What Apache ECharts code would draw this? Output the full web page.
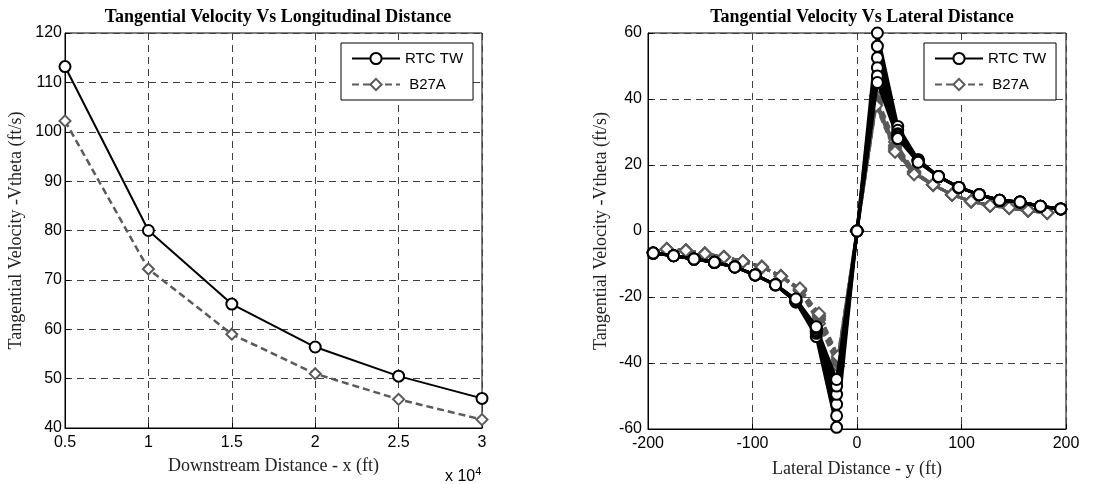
<!DOCTYPE html>
<html>
<head>
<meta charset="utf-8">
<script src="https://cdn.jsdelivr.net/npm/echarts@6/dist/echarts.min.js"></script>
<style>
  html, body { margin: 0; padding: 0; background: #fff; }
  #chart { width: 1118px; height: 484px; }
</style>
</head>
<body>
<div id="chart"></div>
<script>
// ---------- Left chart data ----------
const leftTitle = 'Tangential Velocity Vs Longitudinal Distance';
const downstreamX = [5000, 10000, 15000, 20000, 25000, 30000];
const rtcLong = [113.2, 80.0, 65.1, 56.4, 50.5, 46.0];
const b27Long = [102.2, 72.2, 59.0, 51.0, 45.8, 41.7];

// ---------- Right chart data ----------
const rightTitle = 'Tangential Velocity Vs Lateral Distance';
const rtcLatY = [-195, -175.5, -156, -136.5, -117, -97.5, -78, -58.5, -39, -19.5, 0, 19.5, 39, 58.5, 78, 97.5, 117, 136.5, 156, 175.5, 195];
const rtcLat1 = [-6.7, -7.5, -8.5, -9.5, -10.9, -13.3, -16.3, -21.5, -32.0, -59.5, 0, 60.0, 31.7, 21.6, 16.5, 13.2, 11.0, 9.3, 8.8, 7.5, 6.7];
const rtcLat2 = [-6.7, -7.5, -8.5, -9.5, -10.9, -13.3, -16.3, -21.5, -31.0, -56.0, 0, 56.0, 30.5, 21.6, 16.5, 13.2, 11.0, 9.3, 8.8, 7.5, 6.7];
const rtcLat3 = [-6.7, -7.5, -8.5, -9.5, -10.9, -13.3, -16.3, -21.3, -30.5, -52.5, 0, 52.5, 29.5, 21.4, 16.5, 13.2, 11.0, 9.3, 8.8, 7.5, 6.7];
const rtcLat4 = [-6.7, -7.5, -8.5, -9.5, -10.9, -13.3, -16.3, -21.0, -30.0, -49.5, 0, 49.5, 29.0, 21.2, 16.5, 13.2, 11.0, 9.3, 8.8, 7.5, 6.7];
const rtcLat5 = [-6.7, -7.5, -8.5, -9.5, -10.9, -13.3, -16.3, -20.8, -29.5, -47.0, 0, 47.0, 28.5, 21.0, 16.5, 13.2, 11.0, 9.3, 8.8, 7.5, 6.7];
const rtcLat6 = [-6.7, -7.5, -8.5, -9.5, -10.9, -13.3, -16.3, -20.6, -29.0, -45.0, 0, 45.0, 28.0, 20.8, 16.5, 13.2, 11.0, 9.3, 8.8, 7.5, 6.7];

const b27LatY = [-182, -163.8, -145.6, -127.4, -109.2, -91, -72.8, -54.6, -36.4, -18.2, 0, 18.2, 36.4, 54.6, 72.8, 91, 109.2, 127.4, 145.6, 163.8, 182];
const b27Lat1 = [-5.5, -5.9, -6.9, -7.9, -9.2, -10.9, -13.7, -18.1, -28.0, -41.0, 0, 41.0, 27.0, 18.0, 14.0, 11.0, 9.0, 7.7, 7.0, 6.2, 5.5];
const b27Lat2 = [-5.5, -5.9, -6.9, -7.9, -9.2, -10.9, -13.7, -18.1, -27.0, -40.0, 0, 40.0, 26.0, 18.0, 14.0, 11.0, 9.0, 7.7, 7.0, 6.2, 5.5];
const b27Lat3 = [-5.5, -5.9, -6.9, -7.9, -9.2, -10.9, -13.7, -18.0, -26.5, -39.5, 0, 39.5, 25.5, 17.8, 14.0, 11.0, 9.0, 7.7, 7.0, 6.2, 5.5];
const b27Lat4 = [-5.5, -5.9, -6.9, -7.9, -9.2, -10.9, -13.7, -17.8, -26.0, -39.0, 0, 39.0, 25.0, 17.6, 14.0, 11.0, 9.0, 7.7, 7.0, 6.2, 5.5];
const b27Lat5 = [-5.5, -5.9, -6.9, -7.9, -9.2, -10.9, -13.7, -17.6, -25.5, -38.5, 0, 38.5, 24.5, 17.4, 14.0, 11.0, 9.0, 7.7, 7.0, 6.2, 5.5];
const b27Lat6 = [-5.5, -5.9, -6.9, -7.9, -9.2, -10.9, -13.7, -17.4, -25.0, -38.0, 0, 38.0, 24.0, 17.2, 14.0, 11.0, 9.0, 7.7, 7.0, 6.2, 5.5];

const rtcLatProfiles = [rtcLat1, rtcLat2, rtcLat3, rtcLat4, rtcLat5, rtcLat6];
const b27LatProfiles = [b27Lat1, b27Lat2, b27Lat3, b27Lat4, b27Lat5, b27Lat6];

const seriesNames = ['RTC TW', 'B27A'];
const leftXLabel = 'Downstream Distance - x (ft)';
const rightXLabel = 'Lateral Distance - y (ft)';
const yLabel = 'Tangential Velocity -Vtheta (ft/s)';

// ---------- styles ----------
const BLACK = '#000000';
const GRAY = '#5a5a5a';
const GRID_C = '#404040';
const SANS = 'Liberation Sans, Arial, sans-serif';
const SERIF = 'Liberation Serif, Times New Roman, serif';

function zip(xs, ys) { return xs.map((x, i) => [x, ys[i]]); }

function xAxisCfg(gridIndex, min, max, interval, name, gap, fmt) {
  return {
    type: 'value', gridIndex, min, max, interval,
    name, nameLocation: 'middle', nameGap: gap,
    nameTextStyle: { fontFamily: SERIF, fontSize: 18, color: '#222' },
    axisLine: { show: true, onZero: false, lineStyle: { color: BLACK, width: 1 } },
    axisTick: { show: true, inside: true, length: 5, lineStyle: { color: BLACK } },
    axisLabel: { color: BLACK, fontFamily: SANS, fontSize: 16, margin: 7, formatter: fmt },
    splitLine: { show: true, lineStyle: { color: GRID_C, type: [7, 5], width: 1 } }
  };
}
function yAxisCfg(gridIndex, min, max, interval, gap, margin) {
  return {
    type: 'value', gridIndex, min, max, interval,
    name: yLabel, nameLocation: 'middle', nameGap: gap,
    nameTextStyle: { fontFamily: SERIF, fontSize: 18, color: '#222' },
    axisLine: { show: true, onZero: false, lineStyle: { color: BLACK, width: 1 } },
    axisTick: { show: true, inside: true, length: 5, lineStyle: { color: BLACK } },
    axisLabel: { color: BLACK, fontFamily: SANS, fontSize: 16, margin: margin },
    splitLine: { show: true, lineStyle: { color: GRID_C, type: [7, 5], width: 1 } }
  };
}

function rtcSeries(idx, data, lw, size, bw, z) {
  return {
    name: seriesNames[0], type: 'line', xAxisIndex: idx, yAxisIndex: idx,
    data, clip: false, z,
    symbol: 'emptyCircle', symbolSize: size,
    lineStyle: { color: BLACK, width: lw, type: 'solid' },
    itemStyle: { color: BLACK, borderColor: BLACK, borderWidth: bw },
    emphasis: { disabled: true }, animation: false
  };
}
function b27Series(idx, data, lw, size, bw, z) {
  return {
    name: seriesNames[1], type: 'line', xAxisIndex: idx, yAxisIndex: idx,
    data, clip: false, z,
    symbol: 'emptyDiamond', symbolSize: size,
    lineStyle: { color: GRAY, width: lw, type: [7, 4] },
    itemStyle: { color: GRAY, borderColor: GRAY, borderWidth: bw },
    emphasis: { disabled: true }, animation: false
  };
}

const series = [
  rtcSeries(0, zip(downstreamX, rtcLong), 2, 11, 2, 3),
  b27Series(0, zip(downstreamX, b27Long), 2.5, 11, 2, 2)
];
rtcLatProfiles.forEach((p) => series.push(rtcSeries(1, zip(rtcLatY, p), 3, 11, 2.5, 3)));
b27LatProfiles.forEach((p) => series.push(b27Series(1, zip(b27LatY, p), 3, 12, 2.5, 2)));

function legendCfg(left) {
  return {
    left, top: 43, orient: 'vertical',
    data: seriesNames,
    backgroundColor: '#fff', borderColor: BLACK, borderWidth: 1, borderRadius: 0,
    padding: [8, 10, 8, 10], itemGap: 11, itemWidth: 48, itemHeight: 14,
    textStyle: { fontFamily: SANS, fontSize: 15, color: BLACK },
    formatter: (n) => (n === 'B27A' ? ' B27A' : n),
    selectedMode: false
  };
}

const option = {
  backgroundColor: '#fff',
  animation: false,
  title: [
    { text: leftTitle, left: 273, top: 3, textAlign: 'center',
      textStyle: { fontFamily: SERIF, fontWeight: 'bold', fontSize: 18, color: BLACK } },
    { text: rightTitle, left: 857, top: 3, textAlign: 'center',
      textStyle: { fontFamily: SERIF, fontWeight: 'bold', fontSize: 18, color: BLACK } }
  ],
  legend: [legendCfg(341), legendCfg(924)],
  grid: [
    { left: 65, right: 636, top: 33, bottom: 56, show: true, borderColor: BLACK, borderWidth: 1, backgroundColor: '#fff' },
    { left: 648, right: 52, top: 33, bottom: 55, show: true, borderColor: BLACK, borderWidth: 1, backgroundColor: '#fff' }
  ],
  xAxis: [
    xAxisCfg(0, 5000, 30000, 5000, leftXLabel, 29, (v) => String(v / 10000)),
    xAxisCfg(1, -200, 200, 100, rightXLabel, 31, (v) => String(v))
  ],
  yAxis: [
    yAxisCfg(0, 40, 120, 10, 40, 3),
    yAxisCfg(1, -60, 60, 20, 38, 6)
  ],
  graphic: [
    { type: 'text', left: 445, top: 466,
      style: { text: 'x 10{sup|4}', font: '16px ' + SANS, fill: BLACK,
        rich: { sup: { fontSize: 11, verticalAlign: 'top', padding: [0, 0, 10, 0], fontFamily: SANS } } } }
  ],
  series
};

const chart = echarts.init(document.getElementById('chart'), null, { renderer: 'canvas' });
chart.setOption(option);
</script>
</body>
</html>
